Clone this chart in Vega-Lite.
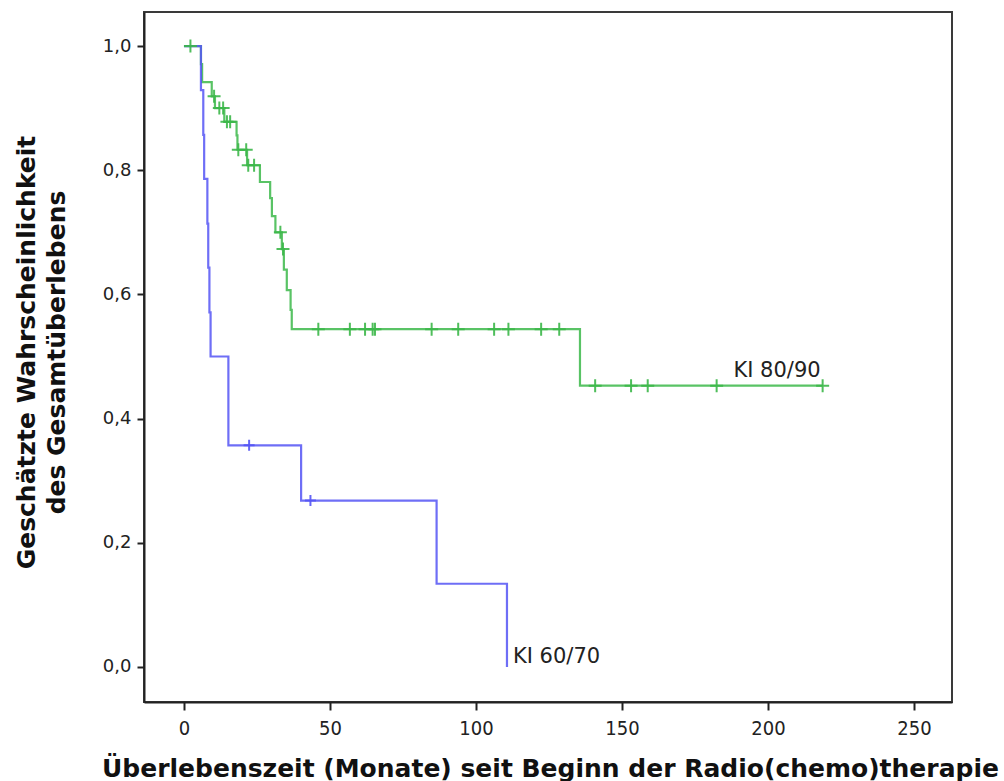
{
  "$schema": "https://vega.github.io/schema/vega-lite/v6.json",
  "width": 808,
  "height": 690,
  "autosize": {"type": "none"},
  "padding": {"left": 144, "top": 12, "right": 52, "bottom": 79},
  "background": "white",
  "config": {
    "view": {"stroke": "#3a3a3a", "strokeWidth": 2},
    "font": "DejaVu Sans"
  },
  "datasets": {
    "curve": [
      {"g": "KI 80/90", "t": 0, "s": 1.0},
      {"g": "KI 80/90", "t": 5.8, "s": 0.971},
      {"g": "KI 80/90", "t": 6.2, "s": 0.942},
      {"g": "KI 80/90", "t": 9.5, "s": 0.919},
      {"g": "KI 80/90", "t": 10.6, "s": 0.9},
      {"g": "KI 80/90", "t": 13.8, "s": 0.878},
      {"g": "KI 80/90", "t": 18.0, "s": 0.856},
      {"g": "KI 80/90", "t": 18.3, "s": 0.833},
      {"g": "KI 80/90", "t": 21.6, "s": 0.808},
      {"g": "KI 80/90", "t": 26.0, "s": 0.781},
      {"g": "KI 80/90", "t": 29.5, "s": 0.755},
      {"g": "KI 80/90", "t": 30.1, "s": 0.726},
      {"g": "KI 80/90", "t": 31.3, "s": 0.7},
      {"g": "KI 80/90", "t": 33.5, "s": 0.673},
      {"g": "KI 80/90", "t": 34.2, "s": 0.64},
      {"g": "KI 80/90", "t": 35.2, "s": 0.607},
      {"g": "KI 80/90", "t": 36.5, "s": 0.575},
      {"g": "KI 80/90", "t": 36.9, "s": 0.544},
      {"g": "KI 80/90", "t": 135.6, "s": 0.453},
      {"g": "KI 80/90", "t": 218.7, "s": 0.453},
      {"g": "KI 60/70", "t": 0, "s": 1.0},
      {"g": "KI 60/70", "t": 5.8, "s": 0.929},
      {"g": "KI 60/70", "t": 6.6, "s": 0.857},
      {"g": "KI 60/70", "t": 6.9, "s": 0.786},
      {"g": "KI 60/70", "t": 8.0, "s": 0.714},
      {"g": "KI 60/70", "t": 8.3, "s": 0.643},
      {"g": "KI 60/70", "t": 8.7, "s": 0.571},
      {"g": "KI 60/70", "t": 9.1, "s": 0.5},
      {"g": "KI 60/70", "t": 15.2, "s": 0.357},
      {"g": "KI 60/70", "t": 40.1, "s": 0.268},
      {"g": "KI 60/70", "t": 86.5, "s": 0.134},
      {"g": "KI 60/70", "t": 110.6, "s": 0.0}
    ],
    "censor": [
      {"g": "KI 80/90", "t": 2.2, "s": 1.0},
      {"g": "KI 80/90", "t": 10.3, "s": 0.919},
      {"g": "KI 80/90", "t": 12.1, "s": 0.9},
      {"g": "KI 80/90", "t": 13.4, "s": 0.9},
      {"g": "KI 80/90", "t": 14.7, "s": 0.878},
      {"g": "KI 80/90", "t": 15.8, "s": 0.878},
      {"g": "KI 80/90", "t": 18.6, "s": 0.833},
      {"g": "KI 80/90", "t": 21.3, "s": 0.833},
      {"g": "KI 80/90", "t": 22.0, "s": 0.808},
      {"g": "KI 80/90", "t": 24.0, "s": 0.808},
      {"g": "KI 80/90", "t": 33.0, "s": 0.7},
      {"g": "KI 80/90", "t": 33.9, "s": 0.673},
      {"g": "KI 80/90", "t": 46.0, "s": 0.544},
      {"g": "KI 80/90", "t": 56.8, "s": 0.544},
      {"g": "KI 80/90", "t": 62.0, "s": 0.544},
      {"g": "KI 80/90", "t": 64.6, "s": 0.544},
      {"g": "KI 80/90", "t": 65.4, "s": 0.544},
      {"g": "KI 80/90", "t": 84.8, "s": 0.544},
      {"g": "KI 80/90", "t": 93.9, "s": 0.544},
      {"g": "KI 80/90", "t": 106.2, "s": 0.544},
      {"g": "KI 80/90", "t": 111.1, "s": 0.544},
      {"g": "KI 80/90", "t": 122.3, "s": 0.544},
      {"g": "KI 80/90", "t": 128.5, "s": 0.544},
      {"g": "KI 80/90", "t": 140.8, "s": 0.453},
      {"g": "KI 80/90", "t": 153.1, "s": 0.453},
      {"g": "KI 80/90", "t": 158.8, "s": 0.453},
      {"g": "KI 80/90", "t": 182.4, "s": 0.453},
      {"g": "KI 80/90", "t": 218.7, "s": 0.453},
      {"g": "KI 60/70", "t": 22.3, "s": 0.357},
      {"g": "KI 60/70", "t": 43.3, "s": 0.268}
    ],
    "labels": [
      {"g": "KI 80/90", "t": 218.7, "s": 0.453, "label": "KI 80/90"},
      {"g": "KI 60/70", "t": 110.6, "s": 0.0, "label": "KI 60/70"}
    ]
  },
  "encoding": {
    "x": {
      "field": "t", "type": "quantitative",
      "scale": {"domain": [-13.7, 263], "nice": false, "zero": false},
      "axis": {
        "values": [0, 50, 100, 150, 200, 250],
        "grid": false,
        "title": "Überlebenszeit (Monate) seit Beginn der Radio(chemo)therapie",
        "titleFont": "DejaVu Sans", "titleFontSize": 25, "titleFontWeight": "bold", "titleColor": "#111",
        "titleX": 406, "titleY": 74, "titleBaseline": "alphabetic", "titleAnchor": "middle",
        "labelFont": "DejaVu Sans Condensed, DejaVu Sans", "labelFontSize": 20, "labelColor": "#222",
        "labelPadding": 8,
        "tickSize": 8, "tickColor": "#222", "tickWidth": 2,
        "domainColor": "#222", "domainWidth": 2
      }
    },
    "y": {
      "field": "s", "type": "quantitative",
      "scale": {"domain": [-0.0564, 1.0548], "nice": false, "zero": false},
      "axis": {
        "values": [0, 0.2, 0.4, 0.6, 0.8, 1.0],
        "labelExpr": "replace(format(datum.value, '.1f'), '.', ',')",
        "grid": false,
        "title": ["Geschätzte Wahrscheinlichkeit", "des Gesamtüberlebens"],
        "titleFont": "DejaVu Sans", "titleFontSize": 25, "titleFontWeight": "bold", "titleColor": "#111",
        "titleLineHeight": 30,
        "titleX": -118, "titleY": 340, "titleBaseline": "middle", "titleAngle": -90,
        "labelFont": "DejaVu Sans", "labelFontSize": 18, "labelColor": "#222",
        "labelPadding": 6,
        "tickSize": 7, "tickColor": "#222", "tickWidth": 2,
        "domainColor": "#222", "domainWidth": 2
      }
    },
    "color": {
      "field": "g", "type": "nominal",
      "scale": {"domain": ["KI 80/90", "KI 60/70"], "range": ["#3cb84a", "#5555f5"]},
      "legend": null
    }
  },
  "layer": [
    {
      "data": {"name": "curve"},
      "mark": {"type": "line", "interpolate": "step-after", "strokeWidth": 2.2, "opacity": 0.85}
    },
    {
      "data": {"name": "censor"},
      "mark": {"type": "point", "shape": "M-1,0H1M0,-1V1", "filled": false, "strokeWidth": 2, "opacity": 0.9},
      "encoding": {
        "size": {"condition": {"test": "datum.g == 'KI 80/90'", "value": 169}, "value": 121}
      }
    },
    {
      "data": {"name": "labels"},
      "transform": [{"filter": "datum.g == 'KI 80/90'"}],
      "mark": {"type": "text", "align": "right", "baseline": "alphabetic", "dx": -2, "dy": -9, "fontSize": 21, "font": "DejaVu Sans", "color": "#222"},
      "encoding": {"text": {"field": "label"}, "color": {"value": "#222"}}
    },
    {
      "data": {"name": "labels"},
      "transform": [{"filter": "datum.g == 'KI 60/70'"}],
      "mark": {"type": "text", "align": "left", "baseline": "alphabetic", "dx": 6, "dy": -4, "fontSize": 21, "font": "DejaVu Sans", "color": "#222"},
      "encoding": {"text": {"field": "label"}, "color": {"value": "#222"}}
    }
  ]
}
